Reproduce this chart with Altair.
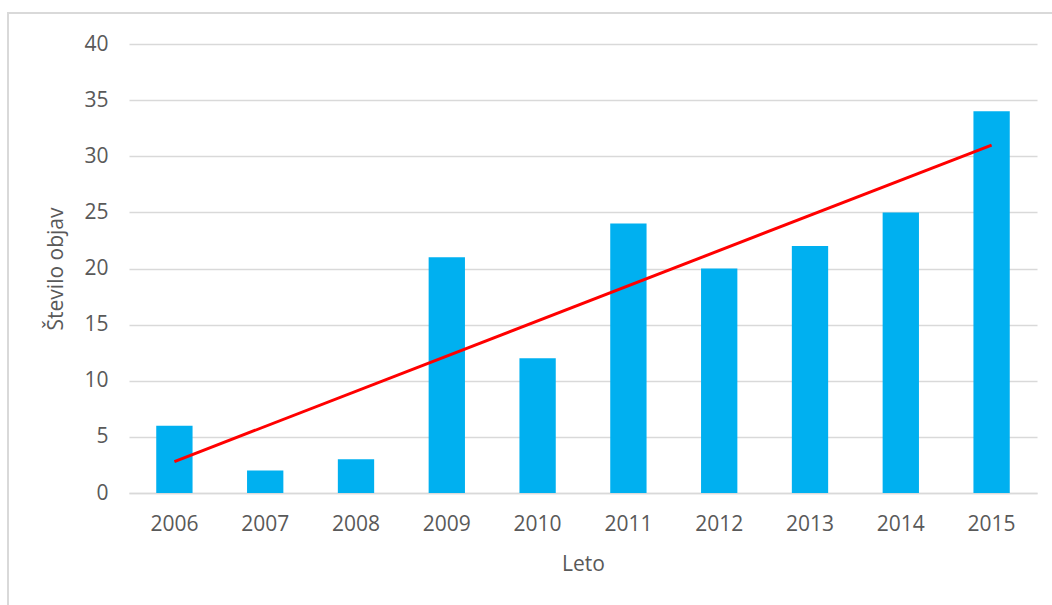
import altair as alt
import pandas as pd

years = ["2006", "2007", "2008", "2009", "2010", "2011", "2012", "2013", "2014", "2015"]
counts = [6, 2, 3, 21, 12, 24, 20, 22, 25, 34]
trend_years = ["2006", "2015"]
trend_values = [2.8, 31.0]
y_ticks = [0, 5, 10, 15, 20, 25, 30, 35, 40]

bars_df = pd.DataFrame({"Leto": years, "Število objav": counts})
trend_df = pd.DataFrame({"Leto": trend_years, "Število objav": trend_values})

FONT = "Open Sans"
TXT = "#595959"
GRID = "#D9D9D9"
FS = 21

x_enc = alt.X(
    "Leto:N",
    sort=years,
    scale=alt.Scale(domain=years, paddingInner=0.6, paddingOuter=0.3),
    axis=alt.Axis(
        title="Leto",
        labelAngle=0,
        labelFontSize=FS,
        labelColor=TXT,
        labelFont=FONT,
        labelPadding=20,
        ticks=False,
        domain=True,
        domainColor=GRID,
        domainWidth=1.5,
        titleFontSize=FS,
        titleFont=FONT,
        titleColor=TXT,
        titleFontWeight="normal",
        titlePadding=19,
    ),
)
y_enc = alt.Y(
    "Število objav:Q",
    scale=alt.Scale(domain=[0, 40], nice=False),
    axis=alt.Axis(
        title="Število objav",
        values=y_ticks,
        labelFontSize=FS,
        labelColor=TXT,
        labelFont=FONT,
        labelPadding=21,
        ticks=False,
        domain=False,
        grid=True,
        gridColor=GRID,
        gridWidth=1.5,
        titleFontSize=FS,
        titleFont=FONT,
        titleColor=TXT,
        titleFontWeight="normal",
        titlePadding=17,
    ),
)

bars = alt.Chart(bars_df).mark_bar(color="#00B0F0").encode(x=x_enc, y=y_enc)

trend = alt.Chart(trend_df).mark_line(color="#FF0000", strokeWidth=3).encode(
    x=alt.X("Leto:N", sort=years), y=alt.Y("Število objav:Q")
)

frame = alt.Chart(bars_df).mark_rect(fill=None, stroke=GRID, strokeWidth=2).encode(
    x=alt.value(-121), x2=alt.value(960), y=alt.value(-31), y2=alt.value(620)
)

chart = (
    alt.layer(bars, trend, frame)
    .properties(
        width=908,
        height=449,
        autosize=alt.AutoSizeParams(type="none"),
        padding={"left": 129, "top": 44, "right": 15, "bottom": 112},
        background="white",
    )
    .configure_view(stroke=None)
)

chart.save("out.html", embed_options={"renderer": "svg", "actions": False})
